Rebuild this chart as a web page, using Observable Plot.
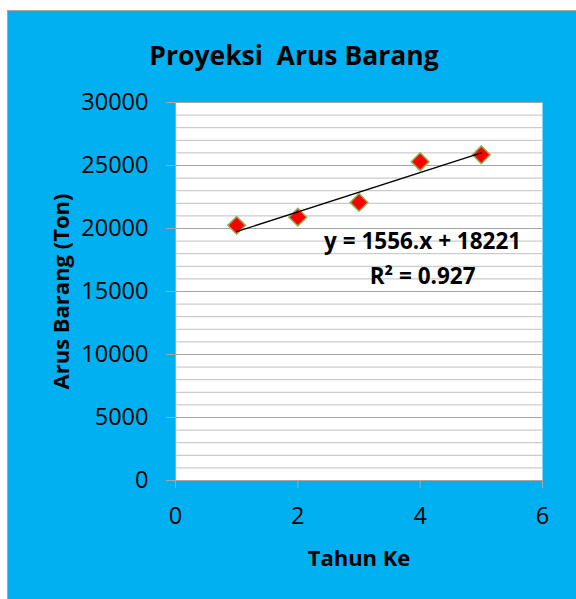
<!DOCTYPE html>
<html>
<head>
<meta charset="utf-8">
<script src="https://cdn.jsdelivr.net/npm/d3@7"></script>
<script src="https://cdn.jsdelivr.net/npm/@observablehq/plot@0.6"></script>
<style>
  html, body { margin: 0; padding: 0; background: #ffffff; }
  #wrap { position: relative; width: 576px; height: 599px; overflow: hidden; }
  #panel { position: absolute; left: 7px; top: 10px; width: 575px; height: 595px;
           background: #00b0f0; border: 1px solid #a6a6a6; box-sizing: border-box; }
  #chart { position: absolute; left: 0; top: 0; }
  #chart svg { background: transparent; overflow: visible; }
</style>
</head>
<body>
<div id="wrap"><div id="panel"></div><div id="chart"></div></div>
<script>
const tahun = [1, 2, 3, 4, 5];
const arusBarang = [20250, 20900, 22070, 25300, 25850];
const xTicks = [0, 2, 4, 6];
const yTicks = [0, 5000, 10000, 15000, 20000, 25000, 30000];
const minorGrid = d3.range(0, 30001, 1000);
const titleText = "Proyeksi \u00a0Arus Barang";
const xLabel = "Tahun Ke";
const yLabel = "Arus Barang (Ton)";
const eqLines = ["y = 1556.x + 18221", "R\u00b2 = 0.927"];

const data = tahun.map((t, i) => ({x: t, y: arusBarang[i]}));
const font = "'Open Sans', sans-serif";

const plot = Plot.plot({
  width: 576,
  height: 599,
  marginLeft: 175,
  marginRight: 34,
  marginTop: 102,
  marginBottom: 119,
  style: {fontFamily: font, background: "transparent", color: "black"},
  x: {domain: [0, 6], ticks: xTicks},
  y: {domain: [0, 30000], ticks: yTicks},
  marks: [
    Plot.frame({fill: "white", stroke: null}),
    Plot.ruleY(minorGrid, {stroke: "#bfbfbf", strokeWidth: 1}),
    Plot.ruleY(yTicks, {stroke: "#a6a6a6", strokeWidth: 1}),
    Plot.ruleX([0], {stroke: "#a6a6a6"}),
    Plot.ruleY([0], {stroke: "#a6a6a6"}),
    Plot.axisY({ticks: yTicks, tickSize: 9, tickPadding: 18, fontSize: 23.5, color: "black", stroke: "#a6a6a6", tickFormat: d => String(d), label: null}),
    Plot.axisX({ticks: xTicks, tickSize: 8, tickPadding: 19, fontSize: 23.5, color: "black", stroke: "#a6a6a6", tickFormat: d => String(d), label: null}),
    Plot.dot(data, {x: "x", y: "y", symbol: "diamond2", r: 8, fill: "#ff0000", stroke: "#8db350", strokeWidth: 1.5}),
    Plot.linearRegressionY(data, {x: "x", y: "y", stroke: "black", strokeWidth: 1.3, ci: 0}),
    Plot.text([eqLines[0]], {x: 4.04, y: 18400, text: d => d, fontSize: 22.5, fontWeight: "bold", lineAnchor: "bottom", fill: "black"}),
    Plot.text([eqLines[1]], {x: 4.04, y: 15600, text: d => d, fontSize: 22.5, fontWeight: "bold", lineAnchor: "bottom", fill: "black"}),
    Plot.text([titleText], {frameAnchor: "top", dx: -65, dy: -38, lineAnchor: "bottom", text: d => d, fontSize: 26.5, fontWeight: "bold", fill: "black"}),
    Plot.text([xLabel], {frameAnchor: "bottom", dx: 0, dy: 85, lineAnchor: "bottom", text: d => d, fontSize: 22, fontWeight: "bold", fill: "black"}),
    Plot.text([yLabel], {frameAnchor: "left", dx: -114, dy: 0, rotate: -90, textAnchor: "middle", text: d => d, fontSize: 22, fontWeight: "bold", fill: "black"})
  ]
});
document.getElementById("chart").appendChild(plot);
</script>
</body>
</html>
